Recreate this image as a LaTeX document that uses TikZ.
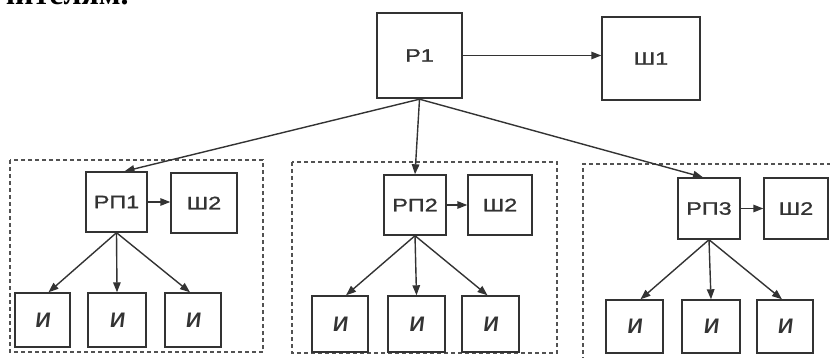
\documentclass[tikz,border=0pt]{standalone}
\usepackage{fontspec}
\setmainfont{Liberation Sans}
\newfontfamily\headfont{Liberation Serif}
\newfontfamily\labfont[FakeStretch=1.3,FakeBold=1.2]{Liberation Sans}
\newfontfamily\isfont[FakeSlant=0.12]{Liberation Sans}
\usepackage{xcolor}
\usetikzlibrary{arrows.meta}
\definecolor{ink}{HTML}{333333}
\tikzset{
  blok/.style={draw=ink,line width=1.4pt,text=ink,inner sep=0pt,font=\labfont\fontsize{18}{18}\selectfont},
  glav/.style={blok,line width=2.4pt},
  ispol/.style={blok,font=\isfont\fontsize{21}{21}\selectfont\bfseries},
  grupa/.style={draw=ink!85,line width=1.6pt,dash pattern=on 4pt off 3pt},
  strel/.style={-{Triangle[length=10pt,width=7.5pt]},ink,line width=1.4pt}
}

\begin{document}
\begin{tikzpicture}[x=1pt,y=-1pt]
\useasboundingbox (0,0) rectangle (830,358);
% cut-off heading line
\begin{scope}
\clip (0,0) rectangle (830,358);
\node[anchor=base west,inner sep=0pt,font=\headfont\fontsize{32}{32}\selectfont\bfseries] (zag) at (-3,5) {чителям.};
\end{scope}
% dashed groups
\draw[grupa] (10,160) rectangle (263,352);
\draw[grupa] (292,162) rectangle (557,353);
\draw[grupa] (831,164) -- (583,164) -- (583,359);
% top level
\node[glav,minimum width=85pt,minimum height=85pt] (p1) at (419.5,55.5) {Р1};
\node[blok,minimum width=98pt,minimum height=83pt] (sh1) at (651,58.5) {Ш1};
% group 1
\node[blok,minimum width=61pt,minimum height=60pt] (rp1) at (116.5,202) {РП1};
\node[blok,minimum width=66pt,minimum height=60pt] (sh2a) at (204,203) {Ш2};
\node[ispol,minimum width=55pt,minimum height=54pt] (i1a) at (42.5,320) {И};
\node[ispol,minimum width=58pt,minimum height=54pt] (i2a) at (117,320) {И};
\node[ispol,minimum width=56pt,minimum height=54pt] (i3a) at (193,320) {И};
% group 2
\node[blok,minimum width=62pt,minimum height=60pt] (rp2) at (415,205) {РП2};
\node[blok,minimum width=64pt,minimum height=60pt] (sh2b) at (500,205) {Ш2};
\node[ispol,minimum width=56pt,minimum height=56pt] (i1b) at (340,324) {И};
\node[ispol,minimum width=57pt,minimum height=56pt] (i2b) at (416.5,324) {И};
\node[ispol,minimum width=57pt,minimum height=56pt] (i3b) at (490.5,324) {И};
% group 3
\node[blok,minimum width=62pt,minimum height=61pt] (rp3) at (709,208.5) {РП3};
\node[blok,minimum width=64pt,minimum height=61pt] (sh2c) at (796,208.5) {Ш2};
\node[ispol,minimum width=57pt,minimum height=53pt] (i1c) at (634.5,326.5) {И};
\node[ispol,minimum width=58pt,minimum height=53pt] (i2c) at (711,326.5) {И};
\node[ispol,minimum width=56pt,minimum height=53pt] (i3c) at (785,326.5) {И};
% connectors
\draw[strel] (p1.east) -- (sh1.west |- p1.east);
\draw[strel] (p1.south) -- ([xshift=8pt]rp1.north);
\draw[strel] (p1.south) -- (rp2.north);
\draw[strel] (p1.south) -- ([xshift=-6pt]rp3.north);
\draw[strel] (rp1.east) -- (sh2a.west |- rp1.east);
\draw[strel] (rp2.east) -- (sh2b.west |- rp2.east);
\draw[strel] (rp3.east) -- (sh2c.west |- rp3.east);
\draw[strel] (rp1.south) -- ([xshift=6pt]i1a.north);
\draw[strel] (rp1.south) -- (i2a.north);
\draw[strel] (rp1.south) -- ([xshift=-3pt]i3a.north);
\draw[strel] (rp2.south) -- ([xshift=6pt]i1b.north);
\draw[strel] (rp2.south) -- (i2b.north);
\draw[strel] (rp2.south) -- ([xshift=-3pt]i3b.north);
\draw[strel] (rp3.south) -- ([xshift=6pt]i1c.north);
\draw[strel] (rp3.south) -- (i2c.north);
\draw[strel] (rp3.south) -- ([xshift=-3pt]i3c.north);
\end{tikzpicture}
\end{document}
